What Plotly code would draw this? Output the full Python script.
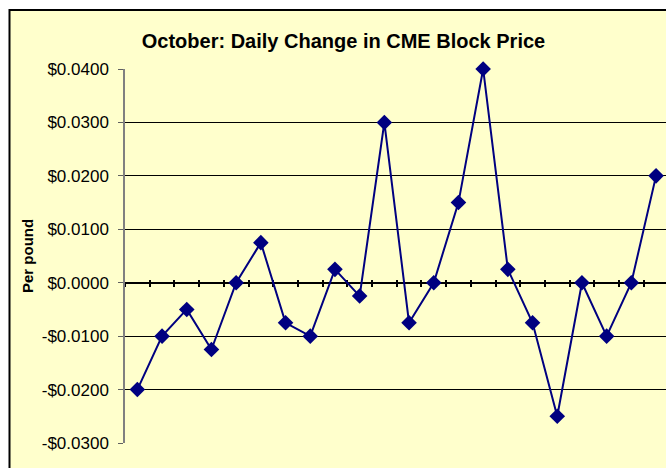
import plotly.graph_objects as go

# ---- data ----
days = list(range(1, 23))
daily_change = [-0.020, -0.010, -0.005, -0.0125, 0.000, 0.0075, -0.0075, -0.010,
                0.0025, -0.0025, 0.030, -0.0075, 0.000, 0.015, 0.040, 0.0025,
                -0.0075, -0.025, 0.000, -0.010, 0.000, 0.020]
y_tick_vals = [-0.03, -0.02, -0.01, 0.0, 0.01, 0.02, 0.03, 0.04]
y_tick_text = ["-$0.0300", "-$0.0200", "-$0.0100", "$0.0000",
               "$0.0100", "$0.0200", "$0.0300", "$0.0400"]
title_text = "October: Daily Change in CME Block Price"
y_title = "Per pound"

# ---- layout geometry (pixels) ----
W, H = 666, 468
L, R, T, B = 125, 0, 69, 25
pw, ph = W - L - R, H - T - B
YMIN, YMAX = -0.03, 0.04
BG = "#FFFFCC"
NAVY = "#000080"
FONT = "Liberation Sans, Arial, sans-serif"


def px_x(px):
    return (px - L) / pw


def px_y(py):
    return (H - B - py) / ph


zero_pos = (0 - YMIN) / (YMAX - YMIN)

fig = go.Figure()
fig.add_trace(go.Scatter(
    x=days, y=daily_change, mode="lines+markers",
    line=dict(color=NAVY, width=2),
    marker=dict(symbol="diamond", size=12, color=NAVY),
    cliponaxis=False,
    xaxis="x", yaxis="y", showlegend=False, hoverinfo="skip"))
# invisible trace to activate second x axis (for crossing ticks)
fig.add_trace(go.Scatter(x=[days[0]], y=[daily_change[0]], mode="markers",
                         marker=dict(opacity=0), xaxis="x2", yaxis="y",
                         showlegend=False, hoverinfo="skip"))

xcommon = dict(range=[0.5, 0.5 + pw / 24.7], tick0=0.5, dtick=1, tickmode="linear",
               showticklabels=False, showgrid=False, zeroline=False,
               tickwidth=2, tickcolor="black", ticklen=3,
               anchor="free", position=zero_pos, layer="below traces")

fig.update_layout(
    width=W, height=H,
    margin=dict(l=L, r=R, t=T, b=B, pad=0),
    paper_bgcolor="white",
    plot_bgcolor="rgba(0,0,0,0)",
    font=dict(family=FONT, color="black", size=16),
    title=dict(text="<b>" + title_text + "</b>", x=343.5 / W, xref="container",
               xanchor="center", y=1 - 41 / H, yref="container", yanchor="middle",
               font=dict(family=FONT, size=20, color="black")),
    xaxis=dict(**xcommon, ticks="outside", showline=True, linecolor="black", linewidth=2),
    xaxis2=dict(**xcommon, ticks="inside", showline=False, overlaying="x", matches="x"),
    yaxis=dict(range=[YMIN, YMAX], tickvals=y_tick_vals, ticktext=y_tick_text,
               showgrid=True, gridcolor="black", gridwidth=1, zeroline=False,
               showline=True, linecolor="#808080", linewidth=1.5,
               ticks="outside", ticklen=5, tickcolor="#606060", tickwidth=1,
               tickfont=dict(size=17, family=FONT, color="black"),
               ticklabelstandoff=6),
    shapes=[dict(type="rect", xref="paper", yref="paper", layer="below",
                 x0=px_x(9.5), x1=px_x(W + 20), y0=px_y(H + 20), y1=px_y(10),
                 fillcolor=BG, line=dict(color="black", width=2))],
    annotations=[dict(text="<b>" + y_title + "</b>", xref="paper", yref="paper",
                      x=px_x(27), y=0.5, textangle=-90, showarrow=False,
                      xanchor="center", yanchor="middle",
                      font=dict(family=FONT, size=15, color="black"))],
)

fig.write_html("out.html", config={"displayModeBar": False},
               post_script="document.body.style.margin='0';")
